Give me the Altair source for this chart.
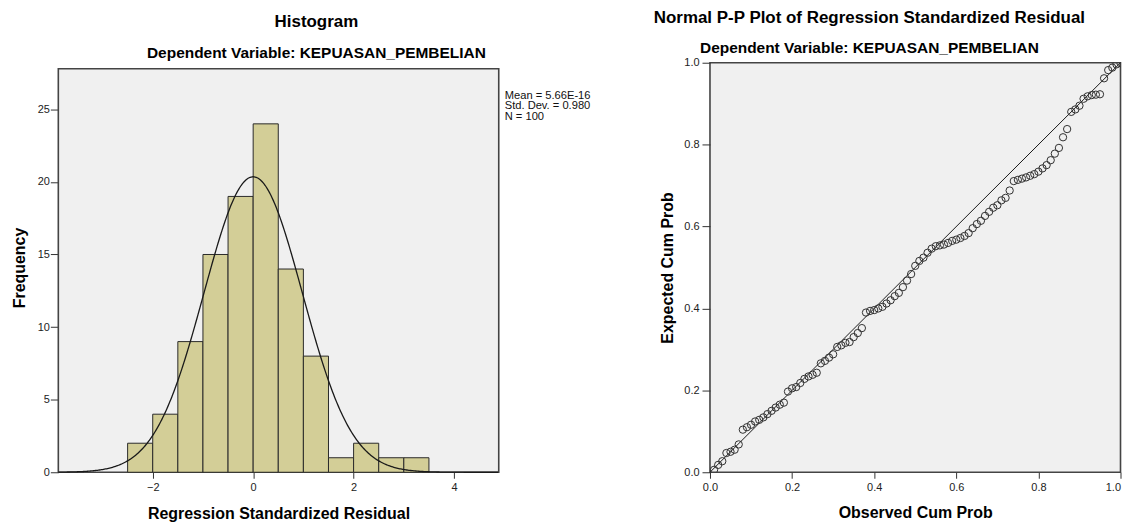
import altair as alt
import pandas as pd

# ---------------- Histogram data ----------------
bin_start = [-2.5, -2.0, -1.5, -1.0, -0.5, 0.0, 0.5, 1.0, 1.5, 2.0, 2.5, 3.0]
bin_end = [-2.0, -1.5, -1.0, -0.5, 0.0, 0.5, 1.0, 1.5, 2.0, 2.5, 3.0, 3.5]
counts = [2, 4, 9, 15, 19, 24, 14, 8, 1, 2, 1, 1]

stat_mean = 5.66e-16
stat_sd = 0.980
stat_n = 100
bin_width = 0.5
stats_lines = ["Mean = 5.66E-16", "Std. Dev. = 0.980", "N = 100"]

hist_x_domain = [-3.88, 4.89]
hist_y_domain = [0, 28.21]
frame_y_top = 27.8
hist_x_ticks = [-2, 0, 2, 4]
hist_y_ticks = [0, 5, 10, 15, 20, 25]

# ---------------- P-P plot data ----------------
observed_cum = [0.01, 0.02, 0.03, 0.04, 0.05, 0.06, 0.07, 0.08, 0.09, 0.10,
                0.11, 0.12, 0.13, 0.14, 0.15, 0.16, 0.17, 0.18, 0.19, 0.20,
                0.21, 0.22, 0.23, 0.24, 0.25, 0.26, 0.27, 0.28, 0.29, 0.30,
                0.31, 0.32, 0.33, 0.34, 0.35, 0.36, 0.37, 0.38, 0.39, 0.40,
                0.41, 0.42, 0.43, 0.44, 0.45, 0.46, 0.47, 0.48, 0.49, 0.50,
                0.51, 0.52, 0.53, 0.54, 0.55, 0.56, 0.57, 0.58, 0.59, 0.60,
                0.61, 0.62, 0.63, 0.64, 0.65, 0.66, 0.67, 0.68, 0.69, 0.70,
                0.71, 0.72, 0.73, 0.74, 0.75, 0.76, 0.77, 0.78, 0.79, 0.80,
                0.81, 0.82, 0.83, 0.84, 0.85, 0.86, 0.87, 0.88, 0.89, 0.90,
                0.91, 0.92, 0.93, 0.94, 0.95, 0.96, 0.97, 0.98, 0.99, 1.00]
expected_cum = [0.006, 0.018, 0.027, 0.047, 0.050, 0.055, 0.068, 0.104, 0.110, 0.116,
                0.124, 0.128, 0.134, 0.142, 0.150, 0.158, 0.165, 0.170, 0.197, 0.205,
                0.208, 0.218, 0.228, 0.234, 0.238, 0.243, 0.266, 0.272, 0.280, 0.288,
                0.306, 0.310, 0.316, 0.318, 0.330, 0.340, 0.352, 0.390, 0.394, 0.396,
                0.400, 0.404, 0.412, 0.420, 0.430, 0.438, 0.452, 0.468, 0.484, 0.504,
                0.516, 0.524, 0.536, 0.546, 0.552, 0.554, 0.556, 0.560, 0.565, 0.568,
                0.572, 0.577, 0.584, 0.596, 0.606, 0.614, 0.626, 0.636, 0.646, 0.652,
                0.664, 0.670, 0.688, 0.711, 0.714, 0.717, 0.720, 0.724, 0.728, 0.734,
                0.742, 0.750, 0.762, 0.778, 0.792, 0.818, 0.838, 0.880, 0.886, 0.895,
                0.912, 0.918, 0.921, 0.922, 0.923, 0.962, 0.982, 0.988, 0.996, 0.999]
diag = [0.0, 1.0]
pp_ticks = [0.0, 0.2, 0.4, 0.6, 0.8, 1.0]

FONT = "Liberation Sans"
BG = "#F0F0F0"
FRAME = "#444444"
BAR_FILL = "#D3CE97"

hist_df = pd.DataFrame({"start": bin_start, "end": bin_end, "count": counts})
frame_df = pd.DataFrame({"x0": [hist_x_domain[0]], "x1": [hist_x_domain[1]],
                         "y0": [0], "y1": [frame_y_top]})
pp_df = pd.DataFrame({"obs": observed_cum, "exp": expected_cum})
diag_df = pd.DataFrame({"a": diag, "b": diag})

xs_hist = alt.Scale(domain=hist_x_domain, nice=False, zero=False)
ys_hist = alt.Scale(domain=hist_y_domain, nice=False)

x_axis_hist = alt.Axis(values=hist_x_ticks, title="Regression Standardized Residual",
                       domain=False, grid=False, tickSize=6, labelPadding=3,
                       titlePadding=13, labelFlush=False)
y_axis_hist = alt.Axis(values=hist_y_ticks, title="Frequency", domain=False,
                       grid=False, tickSize=8, labelPadding=1, titlePadding=10,
                       labelFlush=False)

frame = alt.Chart(frame_df).mark_rect(fill=BG, stroke=FRAME, strokeWidth=1.6).encode(
    x=alt.X("x0:Q", scale=xs_hist, axis=x_axis_hist),
    x2="x1:Q",
    y=alt.Y("y0:Q", scale=ys_hist, axis=y_axis_hist),
    y2="y1:Q",
)

bars = alt.Chart(hist_df).mark_rect(fill=BAR_FILL, stroke="#2a2a2a", strokeWidth=1).encode(
    x=alt.X("start:Q", scale=xs_hist),
    x2="end:Q",
    y=alt.Y("count:Q", scale=ys_hist),
)

curve = alt.Chart(alt.sequence(hist_x_domain[0], hist_x_domain[1] + 0.01, 0.02, as_="x")).transform_calculate(
    y=f"{stat_n * bin_width} * exp(-0.5 * pow((datum.x - {stat_mean}) / {stat_sd}, 2)) / ({stat_sd} * sqrt(2 * PI))"
).mark_line(color="#1a1a1a", strokeWidth=1.3).encode(
    x=alt.X("x:Q", scale=xs_hist),
    y=alt.Y("y:Q", scale=ys_hist),
)

stats_text = alt.Chart(pd.DataFrame({"t": [0]})).mark_text(
    align="left", baseline="top", fontSize=11.2, lineHeight=10.6, font=FONT, color="#111"
).encode(
    x=alt.value(448), y=alt.value(27), text=alt.value(stats_lines)
)

left = alt.layer(frame, bars, curve, stats_text).properties(
    width=442, height=411,
    view=alt.ViewBackground(fill="transparent", stroke="transparent"),
    title=alt.TitleParams(
        text="Histogram", subtitle="Dependent Variable: KEPUASAN_PEMBELIAN",
        fontSize=17, subtitleFontSize=15.5, fontWeight="bold", subtitleFontWeight="bold",
        font=FONT, subtitleFont=FONT, color="black", subtitleColor="black",
        anchor="middle", dx=38, offset=0, subtitlePadding=15,
    ),
)

xs_pp = alt.Scale(domain=[0, 1], nice=False)
ys_pp = alt.Scale(domain=[0, 1], nice=False)

diag_line = alt.Chart(diag_df).mark_line(color="#1a1a1a", strokeWidth=1).encode(
    x=alt.X("a:Q", scale=xs_pp,
            axis=alt.Axis(values=pp_ticks, format=".1f", title="Observed Cum Prob",
                          domain=False, grid=False, tickSize=6, labelPadding=3, titlePadding=12,
                          labelFlush=False,
                          labelAlign={"expr": "datum.value >= 1 ? 'right' : 'center'"})),
    y=alt.Y("b:Q", scale=ys_pp,
            axis=alt.Axis(values=pp_ticks, format=".1f", title="Expected Cum Prob",
                          domain=False, grid=False, tickSize=8, labelPadding=3, titlePadding=8,
                          labelFlush=False)),
)

points = alt.Chart(pp_df).mark_point(
    shape="circle", filled=False, size=54, stroke="#303030", strokeWidth=1, opacity=1,
    clip=True,
).encode(
    x=alt.X("obs:Q", scale=xs_pp),
    y=alt.Y("exp:Q", scale=ys_pp),
)

right = alt.layer(diag_line, points).properties(
    width=412, height=411,
    view=alt.ViewBackground(fill=BG, stroke=FRAME, strokeWidth=1.6),
    title=alt.TitleParams(
        text="Normal P-P Plot of Regression Standardized Residual",
        subtitle="Dependent Variable: KEPUASAN_PEMBELIAN",
        fontSize=17, subtitleFontSize=15.5, fontWeight="bold", subtitleFontWeight="bold",
        font=FONT, subtitleFont=FONT, color="black", subtitleColor="black",
        anchor="middle", dx=-46, offset=-1, subtitlePadding=14,
    ),
)

chart = alt.hconcat(left, right, spacing=212, bounds="flush").properties(
    padding={"left": 2.5, "top": -1, "right": -0.5, "bottom": 0},
    background="white",
).configure_axis(
    labelFont=FONT, titleFont=FONT, labelFontSize=11, labelColor="#222222",
    titleFontSize=16, titleFontWeight="bold", titleColor="black",
    tickColor="#333333", tickWidth=1,
)

chart.save("out.html", embed_options={"renderer": "svg", "actions": False})
